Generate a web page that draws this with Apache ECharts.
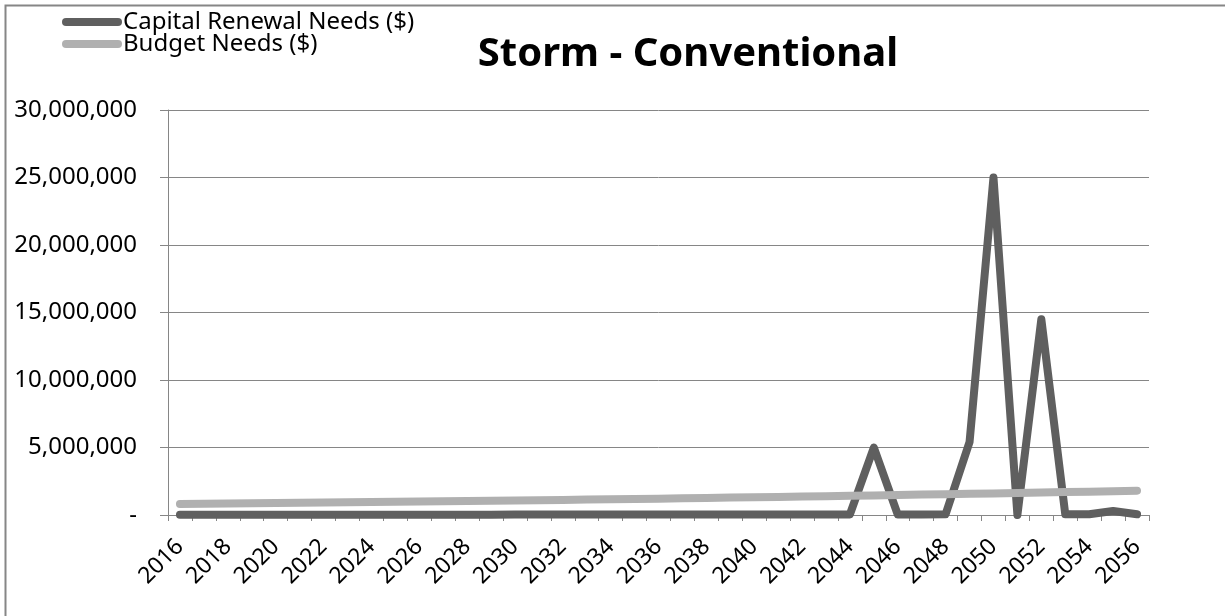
<!DOCTYPE html>
<html>
<head>
<meta charset="utf-8">
<title>Storm - Conventional</title>
<script src="https://cdn.jsdelivr.net/npm/echarts@6/dist/echarts.min.js"></script>
<style>
  html, body { margin: 0; padding: 0; background: #ffffff; }
  #chart { width: 1225px; height: 616px; }
</style>
</head>
<body>
<div id="chart"></div>
<script>
// Planning years
const years = [
  '2016','2017','2018','2019','2020','2021','2022','2023','2024','2025',
  '2026','2027','2028','2029','2030','2031','2032','2033','2034','2035',
  '2036','2037','2038','2039','2040','2041','2042','2043','2044','2045',
  '2046','2047','2048','2049','2050','2051','2052','2053','2054','2055','2056'
];

// Capital renewal needs per year ($)
const capitalRenewal = [
  20000, 15000, 20000, 15000, 20000, 20000, 25000, 20000, 20000, 25000,
  25000, 20000, 25000, 25000, 30000, 30000, 40000, 30000, 30000, 30000,
  30000, 30000, 35000, 30000, 35000, 35000, 40000, 40000, 40000, 5000000,
  30000, 30000, 50000, 5400000, 25000000, 0, 14500000, 50000, 50000, 300000, 50000
];

// Budget needs per year ($)
const budgetNeeds = [
  820000, 840000, 850000, 870000, 890000, 900000, 920000, 940000, 960000, 980000,
  1000000, 1020000, 1040000, 1060000, 1080000, 1100000, 1120000, 1140000, 1170000, 1190000,
  1210000, 1240000, 1260000, 1290000, 1310000, 1340000, 1370000, 1390000, 1420000, 1450000,
  1480000, 1510000, 1540000, 1570000, 1600000, 1630000, 1660000, 1700000, 1730000, 1760000, 1800000
];

const seriesNames = ['Capital Renewal Needs ($)', 'Budget Needs ($)'];

const FONT = '"Noto Sans", "Open Sans", sans-serif';
const AXIS_GRAY = '#868686';
const pill = 'path://M4,0 L56,0 A4,4 0 0 1 56,8 L4,8 A4,4 0 0 1 4,0 Z';

const chart = echarts.init(document.getElementById('chart'), null, { renderer: 'canvas' });

chart.setOption({
  animation: false,
  backgroundColor: '#ffffff',
  title: {
    text: 'Storm - Conventional',
    left: 683,
    textAlign: 'center',
    top: 30,
    textStyle: { fontFamily: FONT, fontSize: 40, fontWeight: 'bold', color: '#000000' }
  },
  legend: {
    orient: 'vertical',
    left: 62,
    top: 10,
    itemWidth: 60,
    itemHeight: 8,
    itemGap: -2,
    padding: 0,
    data: [
      { name: seriesNames[0], icon: pill, itemStyle: { color: '#5f5f5f' } },
      { name: seriesNames[1], icon: pill, itemStyle: { color: '#b0b0b0' } }
    ],
    textStyle: {
      fontFamily: FONT, fontSize: 24, lineHeight: 20, color: '#000000',
      padding: [0, 0, 0, -4]
    }
  },
  grid: { left: 168, right: 76, top: 110, bottom: 101, containLabel: false },
  xAxis: {
    type: 'category',
    data: years,
    boundaryGap: true,
    axisLine: { lineStyle: { color: AXIS_GRAY, width: 1 } },
    axisTick: { show: true, alignWithLabel: false, interval: 0, length: 6, lineStyle: { color: AXIS_GRAY } },
    axisLabel: {
      interval: 1,
      rotate: 45,
      margin: 28,
      fontFamily: FONT,
      fontSize: 23,
      color: '#000000'
    },
    splitLine: { show: false }
  },
  yAxis: {
    type: 'value',
    min: 0,
    max: 30000000,
    interval: 5000000,
    axisLine: { show: true, lineStyle: { color: AXIS_GRAY, width: 1 } },
    axisTick: { show: true, inside: false, length: 8, lineStyle: { color: AXIS_GRAY } },
    axisLabel: {
      margin: 31,
      fontFamily: FONT,
      fontSize: 24,
      color: '#000000',
      formatter: function (v) {
        return v === 0 ? '-' : v.toLocaleString('en-US');
      }
    },
    splitLine: { show: true, lineStyle: { color: AXIS_GRAY, width: 1 } }
  },
  series: [
    {
      name: seriesNames[0],
      type: 'line',
      data: capitalRenewal,
      showSymbol: false,
      symbol: 'none',
      lineStyle: { color: '#5f5f5f', width: 8, cap: 'round', join: 'round' },
      itemStyle: { color: '#5f5f5f' },
      z: 2
    },
    {
      name: seriesNames[1],
      type: 'line',
      data: budgetNeeds,
      showSymbol: false,
      symbol: 'none',
      lineStyle: { color: '#b0b0b0', width: 8, cap: 'round', join: 'round' },
      itemStyle: { color: '#b0b0b0' },
      z: 3
    }
  ],
  graphic: [
    {
      type: 'rect',
      shape: { x: 5.5, y: 5.5, width: 1300, height: 700 },
      style: { fill: 'none', stroke: AXIS_GRAY, lineWidth: 2 },
      silent: true,
      z: -1
    }
  ]
});
</script>
</body>
</html>
